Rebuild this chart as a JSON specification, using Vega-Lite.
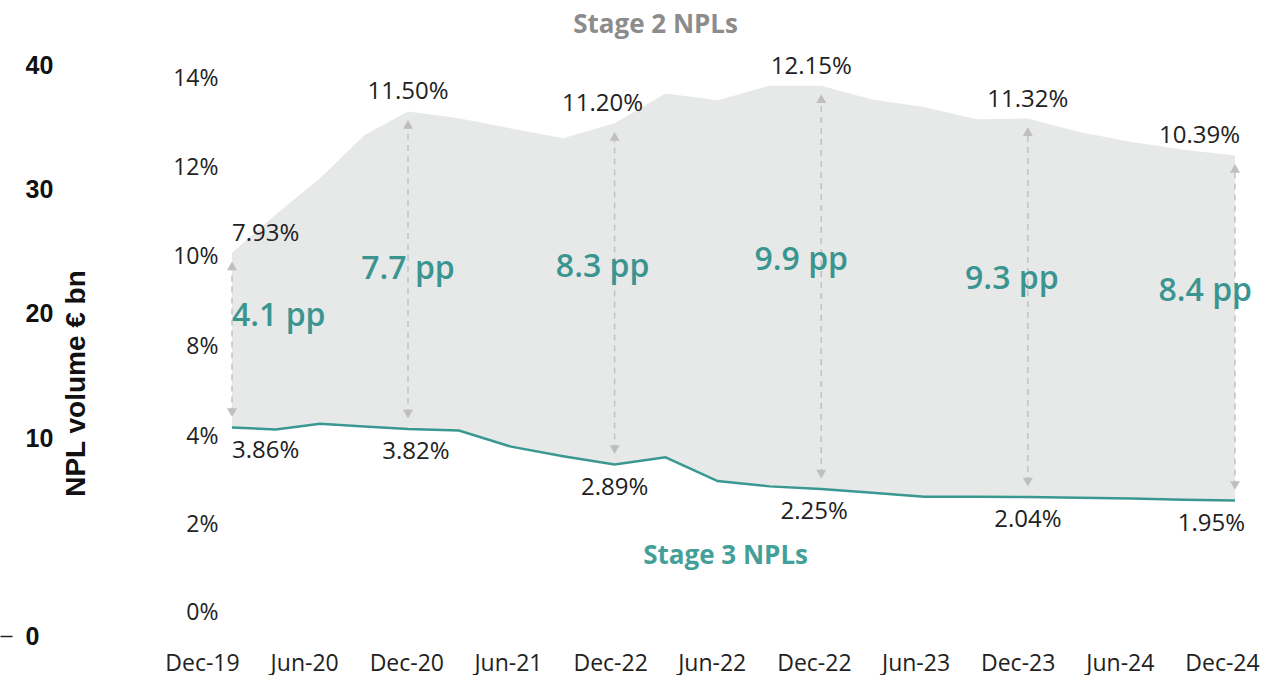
{
  "$schema": "https://vega.github.io/schema/vega-lite/v6.json",
  "width": 1271,
  "height": 675,
  "autosize": {"type": "none"},
  "padding": 0,
  "background": "white",
  "config": {"view": {"stroke": null}, "font": "Open Sans"},
  "data": {
    "format": {"parse": {"date": "date"}},
    "values": [
      {"date": "2019-12-01", "s2": 0.0793, "s3": 0.0386, "pp": "4.1 pp"},
      {"date": "2020-03-01", "s2": 0.0890, "s3": 0.0381},
      {"date": "2020-06-01", "s2": 0.0981, "s3": 0.0396},
      {"date": "2020-09-01", "s2": 0.1090, "s3": 0.0389},
      {"date": "2020-12-01", "s2": 0.1150, "s3": 0.0382, "pp": "7.7 pp"},
      {"date": "2021-03-01", "s2": 0.1133, "s3": 0.0378},
      {"date": "2021-06-01", "s2": 0.1107, "s3": 0.0336},
      {"date": "2021-09-01", "s2": 0.1082, "s3": 0.0311},
      {"date": "2021-12-01", "s2": 0.1120, "s3": 0.0289, "pp": "8.3 pp"},
      {"date": "2022-03-01", "s2": 0.1195, "s3": 0.0308},
      {"date": "2022-06-01", "s2": 0.1178, "s3": 0.0246},
      {"date": "2022-09-01", "s2": 0.1215, "s3": 0.0232},
      {"date": "2022-12-01", "s2": 0.1215, "s3": 0.0225, "pp": "9.9 pp"},
      {"date": "2023-03-01", "s2": 0.1180, "s3": 0.0215},
      {"date": "2023-06-01", "s2": 0.1161, "s3": 0.0205},
      {"date": "2023-09-01", "s2": 0.1130, "s3": 0.0205},
      {"date": "2023-12-01", "s2": 0.1132, "s3": 0.0204, "pp": "9.3 pp"},
      {"date": "2024-03-01", "s2": 0.1098, "s3": 0.0202},
      {"date": "2024-06-01", "s2": 0.1073, "s3": 0.0200},
      {"date": "2024-09-01", "s2": 0.1053, "s3": 0.0197},
      {"date": "2024-12-01", "s2": 0.1039, "s3": 0.0195, "pp": "8.4 pp"}
    ]
  },
  "layer": [
    {
      "encoding": {
        "x": {
          "field": "date",
          "type": "quantitative",
          "scale": {
            "domain": [1575158400000, 1606780800000, 1733011200000],
            "range": [232, 408, 1235],
            "nice": false,
            "zero": false
          },
          "axis": null
        }
      },
      "layer": [
        {
          "mark": {"type": "area", "orient": "vertical", "color": "#e7e8e8", "opacity": 1},
          "encoding": {
            "y": {"field": "s3", "type": "quantitative", "scale": {"domain": [0, 0.04, 0.079, 0.14], "range": [575, 422.2, 254, 12.4], "nice": false, "zero": false}, "axis": null},
            "y2": {"field": "s2"}
          }
        },
        {
          "transform": [{"filter": "isValid(datum.pp)"}],
          "mark": {"type": "rule", "color": "#c2c2c2", "strokeWidth": 1.5, "strokeDash": [6, 5], "yOffset": -14, "y2Offset": 12},
          "encoding": {
            "y": {"field": "s3", "type": "quantitative", "scale": {"domain": [0, 0.04, 0.079, 0.14], "range": [575, 422.2, 254, 12.4], "nice": false, "zero": false}, "axis": null},
            "y2": {"field": "s2"}
          }
        },
        {
          "transform": [{"filter": "isValid(datum.pp)"}],
          "mark": {"type": "point", "shape": "triangle-up", "filled": true, "size": 100, "color": "#bfbfbf", "opacity": 1, "yOffset": 13},
          "encoding": {
            "y": {"field": "s2", "type": "quantitative", "scale": {"domain": [0, 0.04, 0.079, 0.14], "range": [575, 422.2, 254, 12.4], "nice": false, "zero": false}, "axis": null}
          }
        },
        {
          "transform": [{"filter": "isValid(datum.pp)"}],
          "mark": {"type": "point", "shape": "triangle-down", "filled": true, "size": 100, "color": "#bfbfbf", "opacity": 1, "yOffset": -15},
          "encoding": {
            "y": {"field": "s3", "type": "quantitative", "scale": {"domain": [0, 0.04, 0.079, 0.14], "range": [575, 422.2, 254, 12.4], "nice": false, "zero": false}, "axis": null}
          }
        },
        {
          "mark": {"type": "line", "orient": "vertical", "color": "#3a9892", "strokeWidth": 2.5},
          "encoding": {
            "y": {"field": "s3", "type": "quantitative", "scale": {"domain": [0, 0.04, 0.079, 0.14], "range": [575, 422.2, 254, 12.4], "nice": false, "zero": false}, "axis": null}
          }
        },
        {
          "transform": [{"filter": "isValid(datum.pp)"}],
          "mark": {
            "type": "text", "font": "Open Sans", "fontSize": 24, "color": "#222222", "dy": -19,
            "align": {"expr": "utcyear(datum.date) == 2019 ? 'left' : (utcyear(datum.date) == 2024 ? 'right' : 'center')"},
            "dx": {"expr": "utcyear(datum.date) == 2024 ? 5 : (utcyear(datum.date) == 2021 ? -12 : (utcyear(datum.date) == 2022 ? -10 : 0))"}
          },
          "encoding": {
            "y": {"field": "s2", "type": "quantitative", "scale": {"domain": [0, 0.04, 0.079, 0.14], "range": [575, 422.2, 254, 12.4], "nice": false, "zero": false}, "axis": null},
            "text": {"field": "s2", "type": "quantitative", "format": ".2%"}
          }
        },
        {
          "transform": [{"filter": "isValid(datum.pp)"}],
          "mark": {
            "type": "text", "font": "Open Sans", "fontSize": 24, "color": "#222222", "dy": 23,
            "align": {"expr": "utcyear(datum.date) == 2019 ? 'left' : (utcyear(datum.date) == 2024 ? 'right' : 'center')"},
            "dx": {"expr": "utcyear(datum.date) == 2024 ? 10 : (utcyear(datum.date) == 2020 ? 8 : (utcyear(datum.date) == 2022 ? -7 : 0))"}
          },
          "encoding": {
            "y": {"field": "s3", "type": "quantitative", "scale": {"domain": [0, 0.04, 0.079, 0.14], "range": [575, 422.2, 254, 12.4], "nice": false, "zero": false}, "axis": null},
            "text": {"field": "s3", "type": "quantitative", "format": ".2%"}
          }
        },
        {
          "transform": [
            {"filter": "isValid(datum.pp)"},
            {"fold": ["s2", "s3"], "as": ["series", "val"]}
          ],
          "mark": {
            "type": "text", "font": "Open Sans", "fontSize": 32, "fontWeight": 600, "color": "#3a9590",
            "dy": {"expr": "utcyear(datum.date) == 2020 ? 5 : (utcyear(datum.date) == 2024 ? -38 : (utcyear(datum.date) == 2023 ? -28 : -24))"},
            "align": {"expr": "utcyear(datum.date) == 2019 ? 'left' : (utcyear(datum.date) == 2024 ? 'right' : 'center')"},
            "dx": {"expr": "utcyear(datum.date) == 2024 ? 17 : (utcyear(datum.date) == 2021 ? -12 : (utcyear(datum.date) == 2022 ? -20 : (utcyear(datum.date) == 2023 ? -16 : 0)))"}
          },
          "encoding": {
            "y": {"aggregate": "mean", "field": "val", "type": "quantitative", "scale": {"domain": [0, 0.04, 0.079, 0.14], "range": [575, 422.2, 254, 12.4], "nice": false, "zero": false}, "axis": null},
            "text": {"field": "pp", "type": "nominal"}
          }
        },
        {
          "transform": [{"filter": "utcyear(datum.date) == 2022 && utcmonth(datum.date) == 2"}],
          "mark": {"type": "text", "font": "Open Sans", "fontSize": 26, "fontWeight": "bold", "color": "#8c8c8c", "dx": -10},
          "encoding": {
            "y": {"datum": 0.1368, "type": "quantitative", "scale": {"domain": [0, 0.04, 0.079, 0.14], "range": [575, 422.2, 254, 12.4], "nice": false, "zero": false}, "axis": null},
            "text": {"value": "Stage 2 NPLs"}
          }
        },
        {
          "transform": [{"filter": "utcyear(datum.date) == 2022 && utcmonth(datum.date) == 5"}],
          "mark": {"type": "text", "font": "Open Sans", "fontSize": 26, "fontWeight": "bold", "color": "#449f99", "dx": 8},
          "encoding": {
            "y": {"datum": 0.005, "type": "quantitative", "scale": {"domain": [0, 0.04, 0.079, 0.14], "range": [575, 422.2, 254, 12.4], "nice": false, "zero": false}, "axis": null},
            "text": {"value": "Stage 3 NPLs"}
          }
        }
      ]
    },
    {
      "mark": {"type": "rule", "opacity": 0},
      "encoding": {
        "x": {
          "field": "date",
          "type": "temporal",
          "scale": {
            "domain": [1575158400000, 1733011200000],
            "range": [202, 1222],
            "nice": false
          },
          "axis": {
            "orient": "bottom",
            "offset": -12,
            "values": [
              {"year": 2019, "month": 12, "date": 1, "utc": true},
              {"year": 2020, "month": 6, "date": 1, "utc": true},
              {"year": 2020, "month": 12, "date": 1, "utc": true},
              {"year": 2021, "month": 6, "date": 1, "utc": true},
              {"year": 2021, "month": 12, "date": 1, "utc": true},
              {"year": 2022, "month": 6, "date": 1, "utc": true},
              {"year": 2022, "month": 12, "date": 1, "utc": true},
              {"year": 2023, "month": 6, "date": 1, "utc": true},
              {"year": 2023, "month": 12, "date": 1, "utc": true},
              {"year": 2024, "month": 6, "date": 1, "utc": true},
              {"year": 2024, "month": 12, "date": 1, "utc": true}
            ],
            "labelExpr": "utcFormat(datum.value, '%b-%y') == 'Dec-21' ? 'Dec-22' : utcFormat(datum.value, '%b-%y')",
            "labelFont": "Open Sans",
            "labelFontSize": 23,
            "labelColor": "#222222",
            "labelBaseline": "middle",
            "labelPadding": 0,
            "ticks": false,
            "tickSize": 0,
            "domain": false,
            "grid": false,
            "title": null,
            "labelFlush": false,
            "labelOverlap": false,
            "labelBound": false
          }
        }
      }
    },
    {
      "mark": {"type": "rule", "opacity": 0},
      "encoding": {
        "y": {
          "field": "s2",
          "type": "quantitative",
          "scale": {"domain": [0, 0.04, 0.08, 0.14], "range": [612, 436, 346, 78], "nice": false, "zero": false},
          "axis": {
            "orient": "left",
            "offset": -226,
            "values": [0, 0.02, 0.04, 0.08, 0.1, 0.12, 0.14],
            "format": ".0%",
            "labelFont": "Open Sans",
            "labelFontSize": 23,
            "labelColor": "#222222",
            "labelPadding": 8,
            "ticks": false,
            "tickSize": 0,
            "domain": false,
            "grid": false,
            "title": null,
            "labelOverlap": false,
            "labelFlush": false,
            "labelBound": false
          }
        }
      }
    },
    {
      "data": {"values": [{}]},
      "mark": {"type": "rule", "opacity": 0},
      "encoding": {
        "y": {
          "datum": 0,
          "type": "quantitative",
          "scale": {"domain": [0, 10, 40], "range": [636, 438, 65], "nice": false, "zero": false},
          "axis": {
            "orient": "right",
            "offset": -1271,
            "values": [0, 10, 20, 30, 40],
            "labelFont": "Liberation Sans",
            "labelFontSize": 25,
            "labelFontWeight": "bold",
            "labelColor": "#111111",
            "labelPadding": 13,
            "ticks": true,
            "tickSize": 12,
            "tickWidth": 1.5,
            "tickColor": {"condition": {"test": "datum.value === 0", "value": "#222222"}, "value": "transparent"},
            "domain": false,
            "grid": false,
            "title": "NPL volume € bn",
            "titleFont": "Liberation Sans",
            "titleFontSize": 28,
            "titleFontWeight": "bold",
            "titleColor": "#111111",
            "titleAngle": 270,
            "titleBaseline": "top",
            "titleAlign": "center",
            "titleX": 62,
            "titleY": 383,
            "labelOverlap": false,
            "labelFlush": false,
            "labelBound": false
          }
        }
      }
    }
  ],
  "resolve": {
    "scale": {"x": "independent", "y": "independent"},
    "axis": {"x": "independent", "y": "independent"}
  }
}
